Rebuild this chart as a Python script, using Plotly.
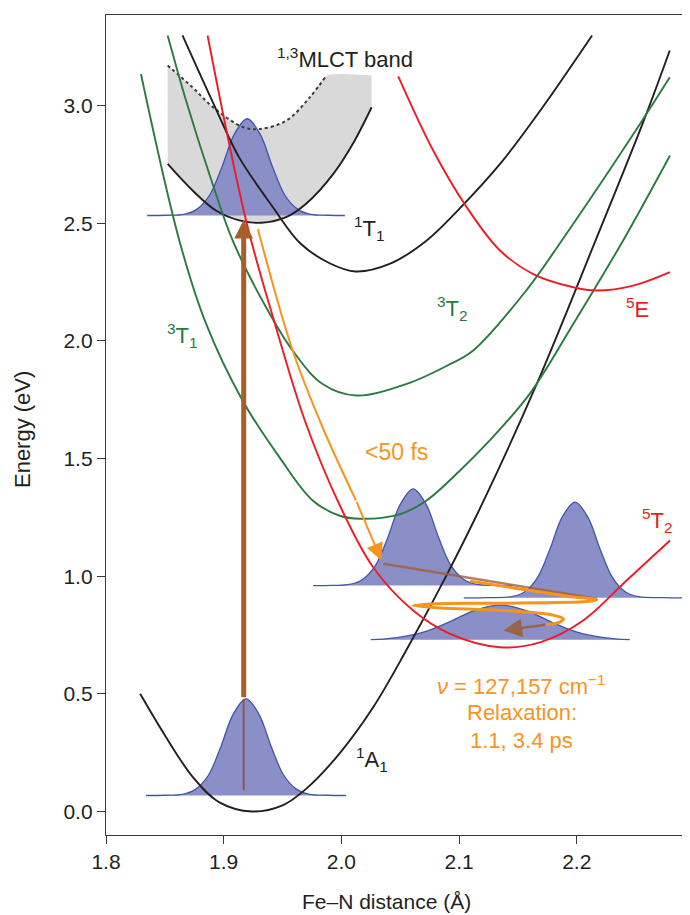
import plotly.graph_objects as go

FONT = "Liberation Sans, Arial, Helvetica, sans-serif"
BLACK = "#231f20"
GREEN = "#2b7a3f"
RED = "#ed1c24"
ORANGE = "#f7941d"
BROWN = "#a65e2a"
BLUE_LINE = "#3f57a8"
BLUE_FILL = "#8a8fc7"
GRAY = "#d9d9da"

# ---- axes ----
x_ticks = [1.8, 1.9, 2.0, 2.1, 2.2]
x_tick_text = ["1.8", "1.9", "2.0", "2.1", "2.2"]
y_ticks = [0.0, 0.5, 1.0, 1.5, 2.0, 2.5, 3.0]
y_tick_text = ["0.0", "0.5", "1.0", "1.5", "2.0", "2.5", "3.0"]

# ---- potential energy curves (Fe-N distance in A, energy in eV) ----
A1_x = [1.829, 1.851, 1.874, 1.896, 1.924, 1.950, 1.970, 1.998, 2.027, 2.055, 2.090, 2.121, 2.166, 2.216, 2.257, 2.279]
A1_E = [0.500, 0.316, 0.145, 0.040, 0.000, 0.026, 0.096, 0.244, 0.443, 0.684, 1.010, 1.322, 1.817, 2.427, 2.937, 3.234]

T1s_x = [1.865, 1.894, 1.913, 1.942, 1.965, 1.990, 2.012, 2.041, 2.0725, 2.100, 2.135, 2.169, 2.213]
T1s_E = [3.298, 2.979, 2.781, 2.567, 2.415, 2.330, 2.295, 2.327, 2.427, 2.560, 2.753, 2.979, 3.298]

mlct_low_x = [1.8524, 1.8736, 1.8934, 1.9133, 1.932, 1.953, 1.970, 1.993, 2.010, 2.0257]
mlct_low_E = [2.752, 2.639, 2.554, 2.512, 2.502, 2.526, 2.583, 2.709, 2.840, 2.993]
mlct_dot_x = [1.8524, 1.873, 1.891, 1.9167, 1.931, 1.9535, 1.9733, 1.9874]
mlct_dot_E = [3.170, 3.080, 2.993, 2.908, 2.901, 2.937, 3.036, 3.128]
mlct_top_x = [2.0257]
mlct_top_E = [3.128]

T1t_x = [1.8297, 1.8623, 1.885, 1.916, 1.9473, 1.9756, 1.998, 2.016, 2.050, 2.0724, 2.1008, 2.1234, 2.160, 2.197, 2.2394, 2.2792]
T1t_E = [3.134, 2.427, 2.073, 1.747, 1.506, 1.322, 1.258, 1.244, 1.264, 1.322, 1.449, 1.563, 1.775, 2.072, 2.427, 2.788]

T2t_x = [1.8524, 1.868, 1.8906, 1.9076, 1.936, 1.9586, 1.984, 2.0124, 2.0554, 2.090, 2.112, 2.157, 2.1873, 2.2537, 2.279]
T2t_E = [3.298, 3.022, 2.667, 2.427, 2.143, 1.959, 1.817, 1.768, 1.817, 1.895, 1.959, 2.214, 2.427, 2.922, 3.120]

T2q_x = [1.8863, 1.919, 1.9444, 1.970, 1.998, 2.027, 2.061, 2.0923, 2.1348, 2.1687, 2.2055, 2.2423, 2.2792]
T2q_E = [3.298, 2.512, 2.058, 1.647, 1.308, 1.038, 0.854, 0.755, 0.698, 0.719, 0.812, 0.982, 1.152]

Eq_x = [2.0483, 2.078, 2.1065, 2.1348, 2.163, 2.197, 2.2168, 2.248, 2.2792]
Eq_E = [3.124, 2.809, 2.568, 2.384, 2.284, 2.228, 2.214, 2.235, 2.292]

# ---- wave packets ----
wp_ground_x = [1.834, 1.850, 1.865, 1.876, 1.887, 1.8975, 1.908, 1.919, 1.930, 1.9405, 1.951, 1.962, 1.973, 1.988, 2.004]
wp_ground_E = [0.068, 0.069, 0.073, 0.094, 0.154, 0.274, 0.413, 0.479, 0.413, 0.274, 0.154, 0.094, 0.073, 0.069, 0.068]
wp_exc_x = [1.835, 1.851, 1.866, 1.877, 1.888, 1.8985, 1.909, 1.920, 1.931, 1.9415, 1.952, 1.963, 1.974, 1.989, 2.003]
wp_exc_E = [2.533, 2.534, 2.538, 2.559, 2.619, 2.739, 2.878, 2.944, 2.878, 2.739, 2.619, 2.559, 2.538, 2.534, 2.533]
wp_hot_x = [1.976, 1.992, 2.007, 2.018, 2.029, 2.0395, 2.050, 2.061, 2.072, 2.0825, 2.093, 2.104, 2.115, 2.130, 2.145]
wp_hot_E = [0.960, 0.961, 0.965, 0.986, 1.046, 1.166, 1.305, 1.371, 1.305, 1.166, 1.046, 0.986, 0.965, 0.961, 0.960]
wp_turn_x = [2.104, 2.125, 2.1445, 2.1555, 2.1665, 2.177, 2.1875, 2.1985, 2.2095, 2.220, 2.2305, 2.2415, 2.2525, 2.272, 2.293]
wp_turn_E = [0.908, 0.909, 0.913, 0.933, 0.993, 1.112, 1.250, 1.315, 1.250, 1.112, 0.993, 0.933, 0.913, 0.909, 0.908]
wp_relax_x = [2.025, 2.047, 2.069, 2.091, 2.113, 2.135, 2.157, 2.179, 2.201, 2.223, 2.245]
wp_relax_E = [0.730, 0.739, 0.761, 0.804, 0.854, 0.877, 0.854, 0.804, 0.761, 0.739, 0.730]

# ---- dynamics paths ----
fast_x = [1.929, 1.9586, 1.984, 2.0124]
fast_E = [2.476, 1.959, 1.633, 1.322]
fast_tip = (2.034, 1.067)
osc_x = [2.1093, 2.1518, 2.1942, 2.2169, 2.2084, 2.1376, 2.0809, 2.0611, 2.0809, 2.1376, 2.1772, 2.1886, 2.1857, 2.1744]
osc_E = [0.979, 0.946, 0.914, 0.900, 0.892, 0.885, 0.883, 0.875, 0.866, 0.854, 0.837, 0.819, 0.805, 0.795]
brown_x = [2.0357, 2.2169]
brown_E = [1.053, 0.904]
relax_tail = (2.1744, 0.795)
relax_tip = (2.1376, 0.769)
excite_x = 1.917
excite_E = [0.09, 0.479, 2.515]

fig = go.Figure()

def curve(x, y, color, width=1.9, dash="solid"):
    fig.add_trace(go.Scatter(x=x, y=y, mode="lines", hoverinfo="skip",
                             line=dict(color=color, width=width, shape="spline", dash=dash)))

# MLCT band fill
fig.add_trace(go.Scatter(x=mlct_low_x, y=mlct_low_E, mode="lines",
                         line=dict(width=0, shape="spline", color=GRAY), hoverinfo="skip"))
fig.add_trace(go.Scatter(x=mlct_dot_x + mlct_top_x, y=mlct_dot_E + mlct_top_E, mode="lines",
                         line=dict(width=0, shape="spline", color=GRAY, smoothing=0.6),
                         fill="tonexty", fillcolor=GRAY, hoverinfo="skip"))

# wave packets
for wx, wy in [(wp_exc_x, wp_exc_E), (wp_ground_x, wp_ground_E), (wp_hot_x, wp_hot_E),
               (wp_turn_x, wp_turn_E), (wp_relax_x, wp_relax_E)]:
    fig.add_trace(go.Scatter(x=wx, y=wy, mode="lines", fill="toself", fillcolor=BLUE_FILL,
                             line=dict(color=BLUE_LINE, width=1.3, shape="spline"), hoverinfo="skip"))

# potential curves
curve(mlct_dot_x, mlct_dot_E, "#3a3a3a", 2, "dot")
curve(mlct_low_x, mlct_low_E, BLACK)
curve(T1s_x, T1s_E, BLACK)
curve(A1_x, A1_E, BLACK)
curve(T1t_x, T1t_E, GREEN)
curve(T2t_x, T2t_E, GREEN)
curve(T2q_x, T2q_E, RED)
curve(Eq_x, Eq_E, RED)

# thin line inside ground packet
fig.add_trace(go.Scatter(x=[excite_x, excite_x], y=excite_E[:2], mode="lines",
                         line=dict(color="rgba(140,80,60,0.85)", width=2), hoverinfo="skip"))
# brown line and orange oscillation
fig.add_trace(go.Scatter(x=brown_x, y=brown_E, mode="lines",
                         line=dict(color="rgba(160,95,60,0.8)", width=2.5), hoverinfo="skip"))
fig.add_trace(go.Scatter(x=osc_x, y=osc_E, mode="lines",
                         line=dict(color=ORANGE, width=3, shape="spline", smoothing=0.8), hoverinfo="skip"))
fig.add_trace(go.Scatter(x=fast_x, y=fast_E, mode="lines",
                         line=dict(color=ORANGE, width=2, shape="spline"), hoverinfo="skip"))

ann = []
# arrows
ann.append(dict(x=excite_x, y=excite_E[2], ax=excite_x, ay=excite_E[1], xref="x", yref="y",
                axref="x", ayref="y", showarrow=True, arrowhead=2, arrowsize=0.75,
                arrowwidth=5, arrowcolor=BROWN, text=""))
ann.append(dict(x=fast_tip[0], y=fast_tip[1], ax=fast_x[-1], ay=fast_E[-1], xref="x", yref="y",
                axref="x", ayref="y", showarrow=True, arrowhead=2, arrowsize=1.7,
                arrowwidth=2, arrowcolor=ORANGE, text=""))
ann.append(dict(x=relax_tip[0], y=relax_tip[1], ax=relax_tail[0], ay=relax_tail[1], xref="x", yref="y",
                axref="x", ayref="y", showarrow=True, arrowhead=2, arrowsize=1.5,
                arrowwidth=2.5, arrowcolor="rgba(160,95,60,0.9)", text=""))

def label(x, y, text, color, size=22):
    ann.append(dict(x=x, y=y, xref="x", yref="y", text=text, showarrow=False,
                    font=dict(family=FONT, size=size, color=color), xanchor="center", yanchor="middle"))

label(2.003, 3.204, "<sup>1,3</sup>MLCT band", BLACK)
label(2.0243, 2.478, "<sup>1</sup>T<sub>1</sub>", BLACK)
label(2.094, 2.138, "<sup>3</sup>T<sub>2</sub>", GREEN)
label(2.2512, 2.138, "<sup>5</sup>E", RED)
label(1.8646, 2.025, "<sup>3</sup>T<sub>1</sub>", GREEN)
label(2.0464, 1.526, "&lt;50 fs", ORANGE, 23)
label(2.269, 1.238, "<sup>5</sup>T<sub>2</sub>", RED)
label(2.026, 0.219, "<sup>1</sup>A<sub>1</sub>", BLACK)
label(2.1534, 0.536, "<i>ν</i> = 127,157 cm<sup>−1</sup>", ORANGE, 22)
label(2.1534, 0.420, "Relaxation:", ORANGE)
label(2.1534, 0.302, "1.1, 3.4 ps", ORANGE)

# axis titles
ann.append(dict(x=0.481, y=-0.0817, xref="paper", yref="paper", text="Fe–N distance (Å)",
                showarrow=False, font=dict(family=FONT, size=21, color=BLACK),
                xanchor="center", yanchor="middle"))
ann.append(dict(x=-0.1438, y=0.4939, xref="paper", yref="paper", text="Energy (eV)",
                showarrow=False, textangle=-90, font=dict(family=FONT, size=22, color=BLACK),
                xanchor="center", yanchor="middle"))

# the page body adds an 8 px margin, so the figure is 8 px smaller on each axis
fig.update_layout(
    width=682, height=907,
    margin=dict(l=98, r=0, t=7, b=80),
    plot_bgcolor="white", paper_bgcolor="white",
    showlegend=False,
    annotations=ann,
    font=dict(family=FONT, color=BLACK),
    xaxis=dict(range=[1.8, 2.2962], tickvals=x_ticks, ticktext=x_tick_text,
               showline=True, linecolor="#3a3a3a", linewidth=1.4, mirror=True,
               ticks="outside", ticklen=8, tickwidth=1.4, tickcolor="#3a3a3a",
               showgrid=False, zeroline=False, tickfont=dict(family=FONT, size=21, color=BLACK)),
    yaxis=dict(range=[-0.0999, 3.385], tickvals=y_ticks, ticktext=y_tick_text,
               showline=True, linecolor="#3a3a3a", linewidth=1.4,
               ticks="outside", ticklen=8, tickwidth=1.4, tickcolor="#3a3a3a",
               showgrid=False, zeroline=False, tickfont=dict(family=FONT, size=21, color=BLACK)),
)

fig.write_html("out.html")
